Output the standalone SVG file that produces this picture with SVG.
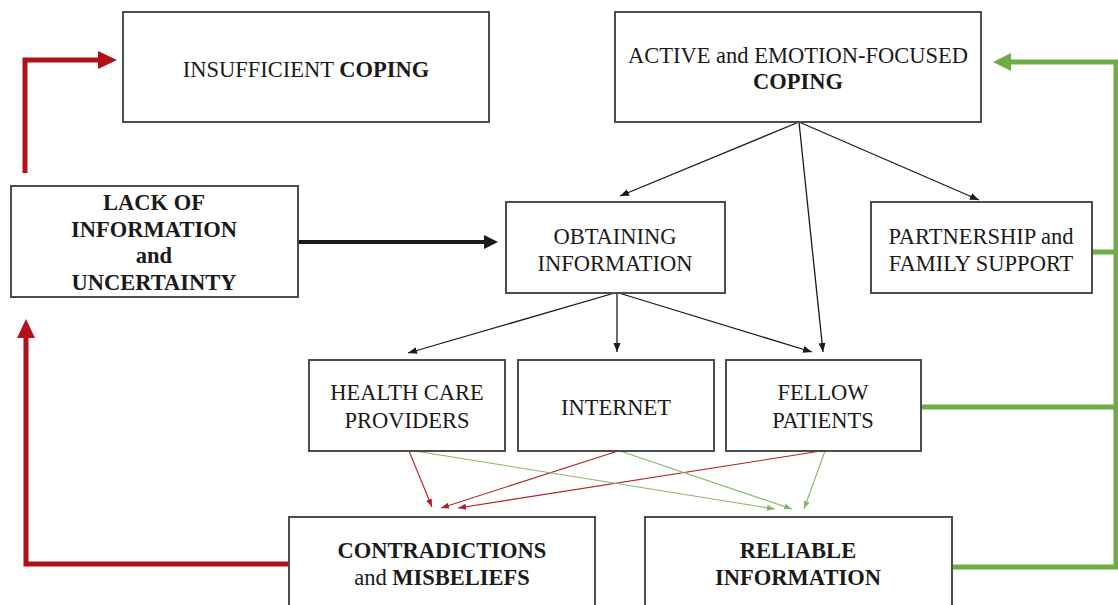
<svg xmlns="http://www.w3.org/2000/svg" width="1118" height="605" viewBox="0 0 1118 605">
<style>
.box{fill:#fff;stroke:#4d4d4d;stroke-width:2}
text{font-family:"Liberation Serif","Times New Roman",serif;font-size:22.5px;fill:#1a1a1a;text-anchor:middle}
.b{font-weight:bold}
.thin{fill:none;stroke:#1a1a1a;stroke-width:1.3}
.tr{fill:none;stroke:#b32025;stroke-width:1.1}
.tg{fill:none;stroke:#86b865;stroke-width:1.1}
.red{fill:none;stroke:#b0111b;stroke-width:5}
.green{fill:none;stroke:#6fac46;stroke-width:5}
</style>
<defs>
<marker id="hk" markerUnits="userSpaceOnUse" markerWidth="10" markerHeight="8" refX="9" refY="3.5" orient="auto"><path d="M0,0 L9,3.5 L0,7 z" fill="#1a1a1a"/></marker>
<marker id="hr" markerUnits="userSpaceOnUse" markerWidth="9" markerHeight="7" refX="8" refY="3" orient="auto"><path d="M0,0 L8,3 L0,6 z" fill="#b32025"/></marker>
<marker id="hg" markerUnits="userSpaceOnUse" markerWidth="9" markerHeight="7" refX="8" refY="3" orient="auto"><path d="M0,0 L8,3 L0,6 z" fill="#86b865"/></marker>
<marker id="hR" markerUnits="userSpaceOnUse" markerWidth="20" markerHeight="18" refX="0" refY="9" orient="auto"><path d="M0,0 L19,9 L0,18 z" fill="#b0111b"/></marker>
<marker id="hG" markerUnits="userSpaceOnUse" markerWidth="20" markerHeight="18" refX="0" refY="9" orient="auto"><path d="M0,0 L18,9 L0,18 z" fill="#6fac46"/></marker>
<marker id="hK" markerUnits="userSpaceOnUse" markerWidth="16" markerHeight="14" refX="0" refY="7" orient="auto"><path d="M0,0 L14,7 L0,14 z" fill="#1a1a1a"/></marker>
</defs>
<rect width="1118" height="605" fill="#fff"/>
<g id="connectors">
<path class="red" d="M25,173 V60 H98" marker-end="url(#hR)"/>
<path class="red" d="M288,564 H26 V338" marker-end="url(#hR)"/>
<path class="green" d="M952,567 H1116 V62 H1011" marker-end="url(#hG)"/>
<path class="green" d="M921,407 H1116"/>
<path class="green" d="M1092,252 H1116"/>
<path d="M298,242 H484" fill="none" stroke="#1a1a1a" stroke-width="4" marker-end="url(#hK)"/>
<path class="thin" d="M799,122 L620,196" marker-end="url(#hk)"/>
<path class="thin" d="M799,122 L979,200" marker-end="url(#hk)"/>
<path class="thin" d="M799,122 L823,352" marker-end="url(#hk)"/>
<path class="thin" d="M625,290 L408,353" marker-end="url(#hk)"/>
<path class="thin" d="M617,285 V352" marker-end="url(#hk)"/>
<path class="thin" d="M609,290 L812,352" marker-end="url(#hk)"/>
<path class="tr" d="M409,451 L432,507" marker-end="url(#hr)"/>
<path class="tr" d="M618,451 L441,508" marker-end="url(#hr)"/>
<path class="tr" d="M821,451 L458,508" marker-end="url(#hr)"/>
<path class="tg" d="M415,451 L775,509" marker-end="url(#hg)"/>
<path class="tg" d="M620,451 L792,509" marker-end="url(#hg)"/>
<path class="tg" d="M825,451 L804,509" marker-end="url(#hg)"/>
</g>
<g id="insufficient">
<rect class="box" x="123" y="12" width="366" height="110"/>
<text x="306" y="77">INSUFFICIENT <tspan class="b">COPING</tspan></text>
</g>
<g id="active">
<rect class="box" x="615" y="12" width="366" height="110"/>
<text x="798" y="63">ACTIVE and EMOTION-FOCUSED</text>
<text x="798" y="89" class="b">COPING</text>
</g>
<g id="lack">
<rect class="box" x="11" y="186" width="287" height="111"/>
<text class="b" x="154" y="210">LACK OF</text>
<text class="b" x="154" y="237">INFORMATION</text>
<text class="b" x="154" y="263">and</text>
<text class="b" x="154" y="290">UNCERTAINTY</text>
</g>
<g id="obtaining">
<rect class="box" x="506" y="202" width="219" height="91"/>
<text x="615" y="244">OBTAINING</text>
<text x="615" y="271">INFORMATION</text>
</g>
<g id="partnership">
<rect class="box" x="871" y="202" width="221" height="91"/>
<text x="981" y="244">PARTNERSHIP and</text>
<text x="981" y="271">FAMILY SUPPORT</text>
</g>
<g id="healthcare">
<rect class="box" x="309" y="360" width="196" height="91"/>
<text x="407" y="400">HEALTH CARE</text>
<text x="407" y="428">PROVIDERS</text>
</g>
<g id="internet">
<rect class="box" x="518" y="360" width="196" height="91"/>
<text x="616" y="415">INTERNET</text>
</g>
<g id="fellow">
<rect class="box" x="726" y="360" width="195" height="91"/>
<text x="823" y="400">FELLOW</text>
<text x="823" y="428">PATIENTS</text>
</g>
<g id="contradictions">
<rect class="box" x="289" y="517" width="306" height="100"/>
<text class="b" x="442" y="558">CONTRADICTIONS</text>
<text x="442" y="585">and <tspan class="b">MISBELIEFS</tspan></text>
</g>
<g id="reliable">
<rect class="box" x="645" y="517" width="307" height="100"/>
<text class="b" x="798" y="558">RELIABLE</text>
<text class="b" x="798" y="585">INFORMATION</text>
</g>
</svg>
